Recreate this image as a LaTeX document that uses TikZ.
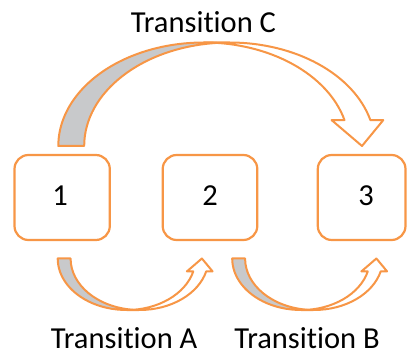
\documentclass[tikz,border=0pt]{standalone}
\usepackage{fontspec}
\setmainfont{Carlito}[RawFeature={-liga;-clig;-calt}]
\begin{document}
\definecolor{accentline}{HTML}{F79646}
\definecolor{backshade}{RGB}{200,201,203}
\begin{tikzpicture}[x=1pt,y=1pt,
  every node/.style={font=\fontsize{30.5}{36}\selectfont, text=black, inner sep=0pt},
  statebox/.style={draw=accentline, line width=2.2pt, fill=white, rounded corners=14pt,
    minimum height=85pt},
  arrowback/.style={draw=accentline, line width=2pt, line join=round, fill=backshade},
  arrowfront/.style={draw=accentline, line width=2pt, line join=round, fill=white},
  % curved arrow bending under, rising to the right; origin at the left end of its base
  curvedup/.pic={
    \path[arrowback] (0,0)
      arc[start angle=180, end angle=275.37, x radius=68.9, y radius=51.5]
      arc[start angle=264.63, end angle=180, x radius=68.9, y radius=51.5] -- cycle;
    \path[arrowfront] (144.2,0) -- (129.2,-12.9) -- (135.6,-12.9)
      arc[start angle=345.52, end angle=270, x radius=68.9, y radius=51.5]
      -- (81.8,-51.5)
      arc[start angle=270, end angle=345.52, x radius=68.9, y radius=51.5]
      -- (154.9,-12.9) -- cycle;
  }]
\useasboundingbox (0,0) rectangle (408,354);

% the three states
\node[statebox, minimum width=95.3pt] (s1) at (62.15,156.5) {};
\node[statebox, minimum width=94.6pt] (s2) at (210,156.5) {};
\node[statebox, minimum width=87.7pt] (s3) at (361.65,156.5) {};
\node[anchor=base] (n1) at (60,148) {1};
\node[anchor=base] (n2) at (210,148) {2};
\node[anchor=base] (n3) at (366,148) {3};

% transition C: arch from state 1 over to state 3
\path[arrowback] (58.3,208)
  arc[start angle=180, end angle=84.89, x radius=145.4, y radius=103.5]
  arc[start angle=95.11, end angle=180, x radius=145.4, y radius=103.5] -- cycle;
\path[arrowfront] (362,208) -- (331.6,233.9) -- (344.5,233.9)
  arc[start angle=14.48, end angle=90, x radius=145.4, y radius=103.5]
  -- (229.6,311.5)
  arc[start angle=90, end angle=14.48, x radius=145.4, y radius=103.5]
  -- (383.3,233.9) -- cycle;

% transitions A and B underneath
\pic at (57.7,95.5) {curvedup};
\pic at (232.2,95.5) {curvedup};

% labels
\node[anchor=base] (lc) at (203.5,321.5) {Transition C};
\node[anchor=base] (la) at (124.2,5.5) {Transition A};
\node[anchor=base] (lb) at (307,5.5) {Transition B};
\end{tikzpicture}
\end{document}
